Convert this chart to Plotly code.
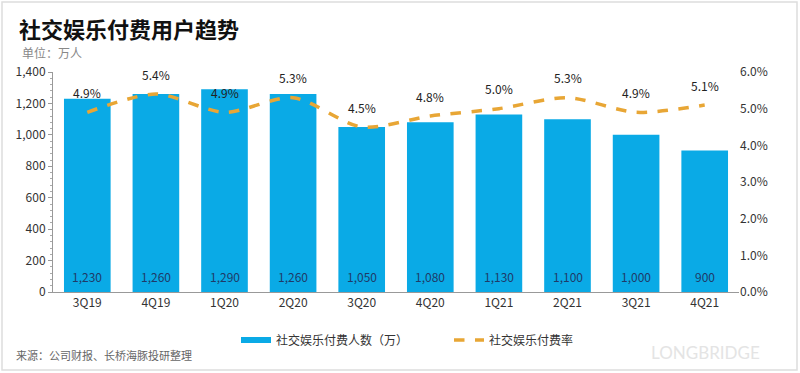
import plotly.graph_objects as go

categories = ["3Q19", "4Q19", "1Q20", "2Q20", "3Q20", "4Q20", "1Q21", "2Q21", "3Q21", "4Q21"]
paying_users = [1230, 1260, 1290, 1260, 1050, 1080, 1130, 1100, 1000, 900]
pay_rate = [4.9, 5.4, 4.9, 5.3, 4.5, 4.8, 5.0, 5.3, 4.9, 5.1]
left_ticks = [0, 200, 400, 600, 800, 1000, 1200, 1400]
right_ticks = [0, 1, 2, 3, 4, 5, 6]

FONT = "Noto Sans CJK SC"
BAR_C = "#0AAAE6"
LINE_C = "#E8A635"
BAR_NAME = "社交娱乐付费人数（万）"
LINE_NAME = "社交娱乐付费率"

fig = go.Figure()
fig.add_trace(go.Bar(
    x=categories, y=paying_users, name=BAR_NAME, showlegend=False,
    marker=dict(color=BAR_C, line=dict(width=0)),
))
# legend stand-in for the bar series (flat wide swatch)
fig.add_trace(go.Scatter(
    x=[categories[0]], y=[None], name=BAR_NAME, mode="lines",
    line=dict(color=BAR_C, width=6),
))
fig.add_trace(go.Scatter(
    x=categories, y=pay_rate, name=LINE_NAME, yaxis="y2",
    mode="lines", line=dict(color=LINE_C, width=3.5, dash="dash", shape="spline", smoothing=0.8),
))

annotations = []
for c, v in zip(categories, paying_users):
    annotations.append(dict(x=c, y=0, xref="x", yref="y", text=f"{v:,}", showarrow=False,
                            yanchor="middle", yshift=16, font=dict(size=12, color="#1F3A68", family=FONT)))
for c, v in zip(categories, pay_rate):
    annotations.append(dict(x=c, y=v, xref="x", yref="y2", text=f"{v:.1f}%", showarrow=False,
                            yshift=20, font=dict(size=12, color="#222", family=FONT)))
annotations += [
    dict(x=-53/686 + 17/686, y=(292-28)/220, xref="paper", yref="paper", xanchor="left", yanchor="middle",
         text="<b>社交娱乐付费用户趋势</b>", showarrow=False, font=dict(size=22, color="#111", family=FONT)),
    dict(x=-53/686 + 20/686, y=(292-53)/220, xref="paper", yref="paper", xanchor="left", yanchor="middle",
         text="单位：万人", showarrow=False, font=dict(size=12, color="#888", family=FONT)),
    dict(x=-53/686 + 14/686, y=(292-355)/220, xref="paper", yref="paper", xanchor="left", yanchor="middle",
         text="来源：公司财报、长桥海豚投研整理", showarrow=False, font=dict(size=11, color="#666", family=FONT)),
    dict(x=(705-53)/686, y=(292-352)/220, xref="paper", yref="paper", xanchor="center", yanchor="middle",
         text="LONGBRIDGE", showarrow=False, font=dict(size=17, color="#E4E4E4", family="Lato")),
]

fig.update_layout(
    width=800, height=373,
    margin=dict(l=53, r=61, t=72, b=81),
    paper_bgcolor="white", plot_bgcolor="white",
    font=dict(family=FONT, size=12, color="#333"),
    bargap=0.32,
    showlegend=True,
    legend=dict(orientation="h", x=(236-53)/686, xanchor="left", y=(292-340)/220, yanchor="middle",
                font=dict(size=12, color="#333", family=FONT), entrywidth=168, bgcolor="rgba(0,0,0,0)"),
    xaxis=dict(showline=True, linecolor="#999", linewidth=1, ticks="", tickfont=dict(size=12, color="#333")),
    yaxis=dict(range=[0, 1400], tickvals=left_ticks, ticktext=[f"{t:,}" for t in left_ticks],
               showgrid=False, zeroline=False, showline=True, linecolor="#999", linewidth=1,
               ticks="outside", ticklen=4, tickcolor="#999",
               minor=dict(ticks="outside", ticklen=2, dtick=40, tickcolor="#aaa"),
               tickfont=dict(size=12, color="#333")),
    yaxis2=dict(range=[0, 6], overlaying="y", side="right", tickvals=right_ticks,
                ticktext=[f"{t:.1f}%" for t in right_ticks], showgrid=False, zeroline=False,
                showline=False, tickfont=dict(size=12, color="#333")),
    annotations=annotations,
    shapes=[dict(type="rect", xref="paper", yref="paper", x0=(2-53)/686, x1=(797-53)/686,
                 y0=(292-370)/220, y1=(292-2)/220, line=dict(color="#DDDDDD", width=1.5), layer="below")],
)

fig.write_html("out.html", config={"displayModeBar": False},
               post_script="document.body.style.margin='0';document.body.style.overflow='hidden';")
